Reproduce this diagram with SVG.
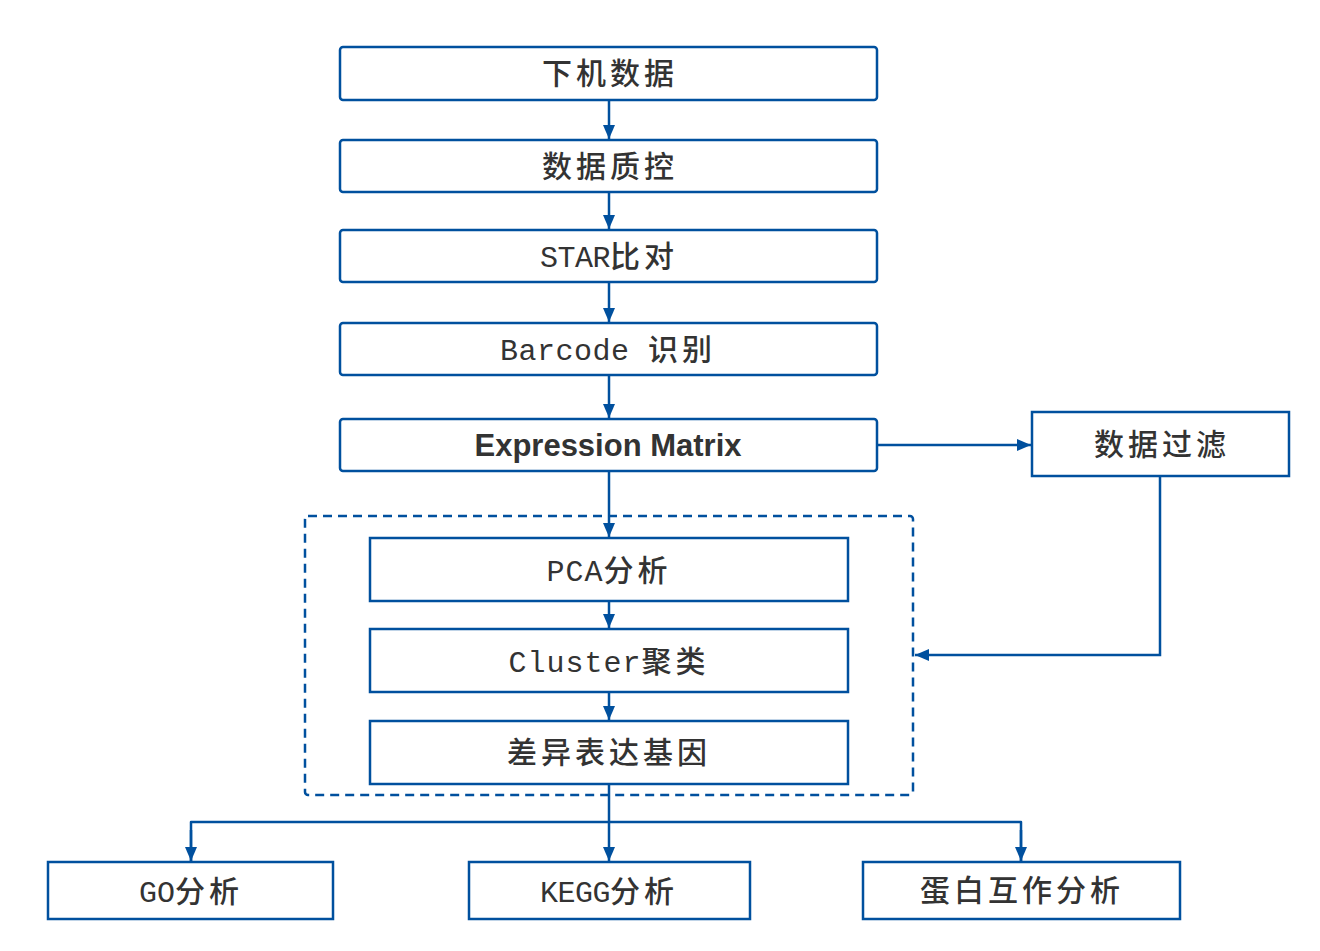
<svg xmlns="http://www.w3.org/2000/svg" width="1320" height="951" viewBox="0 0 1320 951">
<style>
.box{fill:#fff;stroke:#00509e;stroke-width:2.5}
.t{font-family:"Noto Sans CJK SC","Liberation Sans",sans-serif;font-size:30px;font-weight:500;fill:#333;text-anchor:middle;letter-spacing:4px}
.m{font-family:"Liberation Mono",monospace;font-size:30px;font-weight:normal;letter-spacing:0px}
.b{font-family:"Liberation Sans",Arial,sans-serif;font-size:31px;font-weight:bold;fill:#333;text-anchor:middle;dominant-baseline:central}
.c{fill:none;stroke:#00509e;stroke-width:2.5}
</style>
<defs>
<marker id="ah" markerWidth="14" markerHeight="12" refX="14" refY="6" orient="auto" markerUnits="userSpaceOnUse">
<path d="M0,0 L14,6 L0,12 Z" fill="#00509e"/>
</marker>
</defs>
<g id="group-dashed"><rect x="305" y="516" width="608" height="279" rx="3" fill="none" stroke="#00509e" stroke-width="2.5" stroke-dasharray="9,6"/></g>
<g id="n1"><rect class="box" x="340" y="47" width="537" height="53" rx="3"/><text class="t" x="610" y="84">下机数据</text></g>
<g id="n2"><rect class="box" x="340" y="140" width="537" height="52" rx="3"/><text class="t" x="610" y="177">数据质控</text></g>
<g id="n3"><rect class="box" x="340" y="230" width="537" height="52" rx="3"/><text class="t" x="609" y="267"><tspan class="m" style="letter-spacing:-0.5px">STAR</tspan>比对</text></g>
<g id="n4"><rect class="box" x="340" y="323" width="537" height="52" rx="3"/><text class="t" x="608" y="360"><tspan class="m" style="letter-spacing:0.5px">Barcode </tspan>识别</text></g>
<g id="n5"><rect class="box" x="340" y="419" width="537" height="52" rx="3"/><text class="b" x="608" y="445">Expression Matrix</text></g>
<g id="n6"><rect class="box" x="1032" y="412" width="257" height="64"/><text class="t" x="1162" y="455">数据过滤</text></g>
<g id="n7"><rect class="box" x="370" y="538" width="478" height="63"/><text class="t" x="609" y="581"><tspan class="m" style="letter-spacing:1px">PCA</tspan>分析</text></g>
<g id="n8"><rect class="box" x="370" y="629" width="478" height="63"/><text class="t" x="609" y="672"><tspan class="m" style="letter-spacing:1px">Cluster</tspan>聚类</text></g>
<g id="n9"><rect class="box" x="370" y="721" width="478" height="63"/><text class="t" x="609" y="763">差异表达基因</text></g>
<g id="n10"><rect class="box" x="48" y="862" width="285" height="57"/><text class="t" x="191" y="902"><tspan class="m">GO</tspan>分析</text></g>
<g id="n11"><rect class="box" x="469" y="862" width="281" height="57"/><text class="t" x="609" y="902"><tspan class="m" style="letter-spacing:-0.5px">KEGG</tspan>分析</text></g>
<g id="n12"><rect class="box" x="863" y="862" width="317" height="57"/><text class="t" x="1022" y="901">蛋白互作分析</text></g>
<g id="connectors">
<line class="c" x1="609" y1="100" x2="609" y2="139" marker-end="url(#ah)"/>
<line class="c" x1="609" y1="192" x2="609" y2="229" marker-end="url(#ah)"/>
<line class="c" x1="609" y1="282" x2="609" y2="322" marker-end="url(#ah)"/>
<line class="c" x1="609" y1="375" x2="609" y2="418" marker-end="url(#ah)"/>
<line class="c" x1="609" y1="471" x2="609" y2="537" marker-end="url(#ah)"/>
<line class="c" x1="609" y1="601" x2="609" y2="628" marker-end="url(#ah)"/>
<line class="c" x1="609" y1="692" x2="609" y2="720" marker-end="url(#ah)"/>
<line class="c" x1="877" y1="445" x2="1031" y2="445" marker-end="url(#ah)"/>
<polyline class="c" points="1160,476 1160,655 915,655" marker-end="url(#ah)"/>
<line class="c" x1="609" y1="784" x2="609" y2="861" marker-end="url(#ah)"/>
<polyline class="c" points="191,861 191,822 1021,822 1021,861" stroke-linejoin="round"/>
<line class="c" x1="191" y1="830" x2="191" y2="861" marker-end="url(#ah)"/>
<line class="c" x1="1021" y1="830" x2="1021" y2="861" marker-end="url(#ah)"/>
</g>
</svg>
